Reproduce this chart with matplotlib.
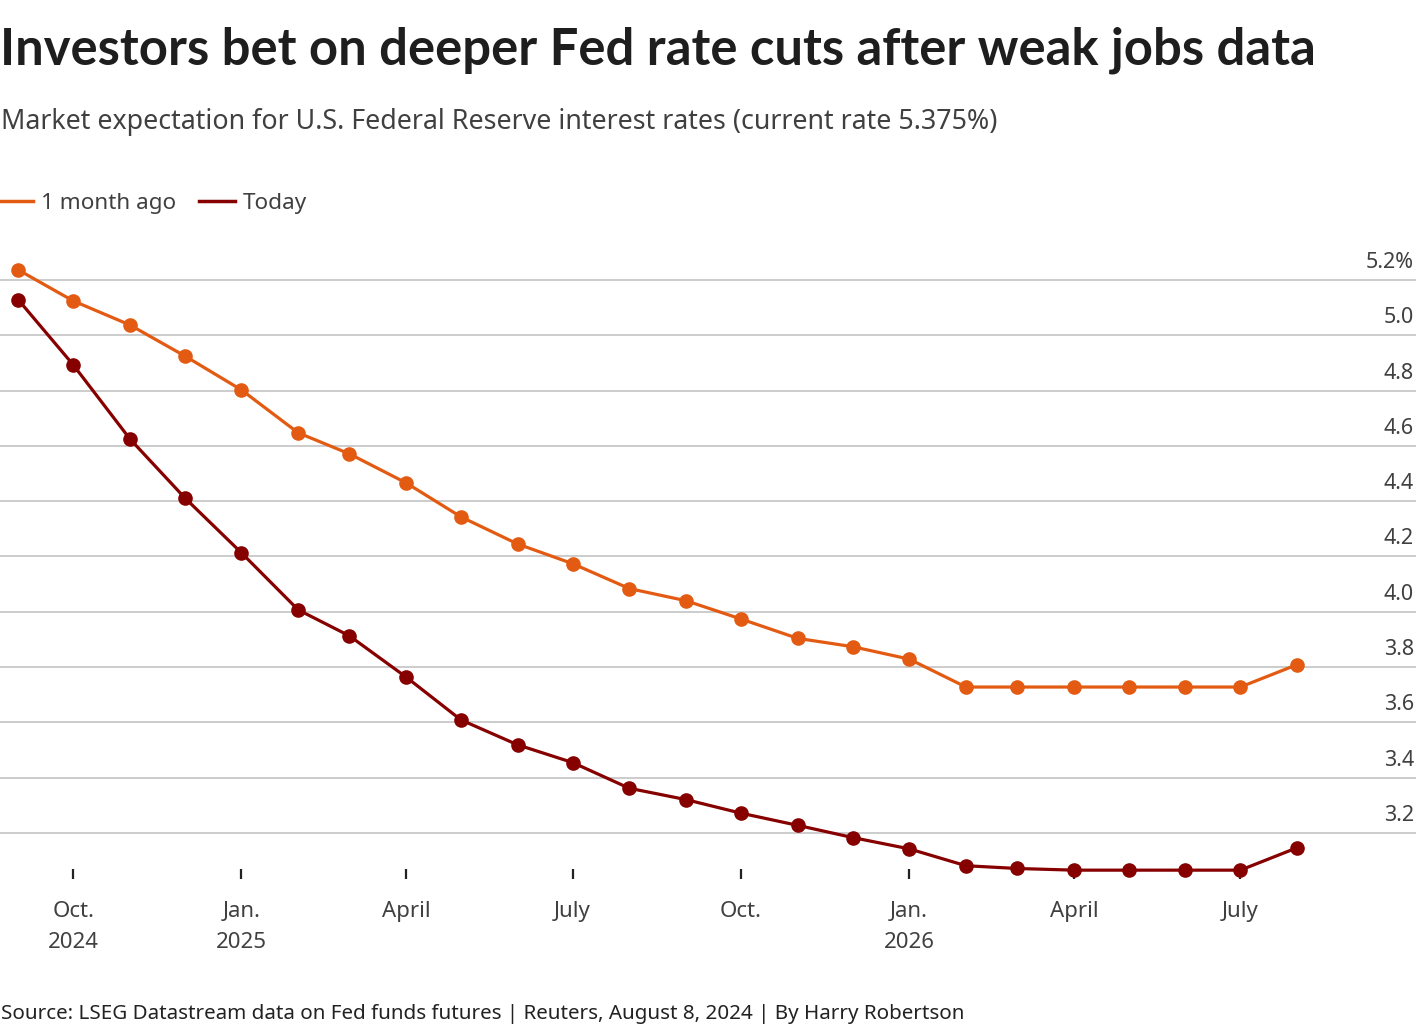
import matplotlib
matplotlib.use("Agg")
import matplotlib.pyplot as plt
import matplotlib.transforms as mtransforms
from matplotlib.lines import Line2D
import pandas as pd

# ---- data ----
dates = pd.date_range("2024-09-01", "2026-08-01", freq="MS")
month_ago = [5.236, 5.124, 5.037, 4.925, 4.802, 4.647, 4.571, 4.466, 4.343, 4.245,
             4.174, 4.084, 4.040, 3.974, 3.904, 3.874, 3.829, 3.728, 3.728, 3.728,
             3.728, 3.728, 3.728, 3.809]
today = [5.128, 4.893, 4.625, 4.412, 4.213, 4.007, 3.913, 3.764, 3.609, 3.519,
         3.455, 3.362, 3.321, 3.272, 3.228, 3.184, 3.143, 3.082, 3.072, 3.066,
         3.066, 3.066, 3.066, 3.147]
series_names = ["1 month ago", "Today"]
y_ticks = [3.2, 3.4, 3.6, 3.8, 4.0, 4.2, 4.4, 4.6, 4.8, 5.0, 5.2]
y_tick_labels = ["3.2", "3.4", "3.6", "3.8", "4.0", "4.2", "4.4", "4.6", "4.8", "5.0", "5.2%"]
x_tick_dates = pd.to_datetime(["2024-10-01", "2025-01-01", "2025-04-01", "2025-07-01",
                               "2025-10-01", "2026-01-01", "2026-04-01", "2026-07-01"])
x_tick_labels = ["Oct.\n2024", "Jan.\n2025", "April", "July", "Oct.", "Jan.\n2026", "April", "July"]

title = "Investors bet on deeper Fed rate cuts after weak jobs data"
subtitle = "Market expectation for U.S. Federal Reserve interest rates (current rate 5.375%)"
source = "Source: LSEG Datastream data on Fed funds futures | Reuters, August 8, 2024 | By Harry Robertson"

ORANGE = "#E35B12"
DARKRED = "#870000"
GRID = "#c8c8c8"
TXT = "#404040"

plt.rcParams["font.family"] = ["Noto Sans", "DejaVu Sans"]

W, H = 1420, 1036
fig = plt.figure(figsize=(W / 100, H / 100), dpi=100)
fig.patch.set_facecolor("white")

ax_top_px, ax_bot_px = 250, 879
ax = fig.add_axes([0, 1 - ax_bot_px / H, 1416 / W, (ax_bot_px - ax_top_px) / H])
ax.set_facecolor("none")

ax.plot(dates, month_ago, color=ORANGE, lw=2.3, marker="o", ms=9.5, zorder=3, clip_on=False)
ax.plot(dates, today, color=DARKRED, lw=2.3, marker="o", ms=9.5, zorder=3, clip_on=False)

ax.set_xlim(pd.Timestamp("2024-08-22"), pd.Timestamp("2026-10-05"))
ax.set_ylim(3.034, 5.308)

for s in ax.spines.values():
    s.set_visible(False)

ax.set_yticks([])
for v in y_ticks:
    ax.axhline(v, color=GRID, lw=1.3, zorder=1)

trans = mtransforms.offset_copy(ax.get_yaxis_transform(), fig=fig, x=-2, y=7, units="dots")
for v, lab in zip(y_ticks, y_tick_labels):
    ax.text(1.0, v, lab, transform=trans, ha="right", va="bottom",
            fontsize=15.5, color=TXT)

ax.set_xticks(x_tick_dates)
ax.set_xticklabels(x_tick_labels, fontsize=16, color=TXT, linespacing=1.6)
ax.tick_params(axis="x", direction="in", length=7, width=1.6, color="#222222", pad=16)

# legend
handles = [Line2D([], [], color=ORANGE, lw=2.5), Line2D([], [], color=DARKRED, lw=2.5)]
leg = fig.legend(handles, series_names, loc="center left", bbox_to_anchor=(-0.002, 1 - 203 / H),
                 ncol=2, frameon=False, fontsize=16.2, handlelength=1.6, handletextpad=0.35,
                 columnspacing=1.0, borderpad=0, borderaxespad=0)
for t in leg.get_texts():
    t.set_color(TXT)

fig.text(0.0, 1 - 50 / H, title, fontsize=36.5, fontweight="bold", color="#1e1e1e",
         ha="left", va="center", family=["Lato", "DejaVu Sans"])
fig.text(0.001, 1 - 122 / H, subtitle, fontsize=19.3, color=TXT, ha="left", va="center")
fig.text(0.001, 1 - 1014 / H, source, fontsize=14.85, color="#222222", ha="left", va="center")

fig.savefig("out.png", dpi=100, facecolor="white")
